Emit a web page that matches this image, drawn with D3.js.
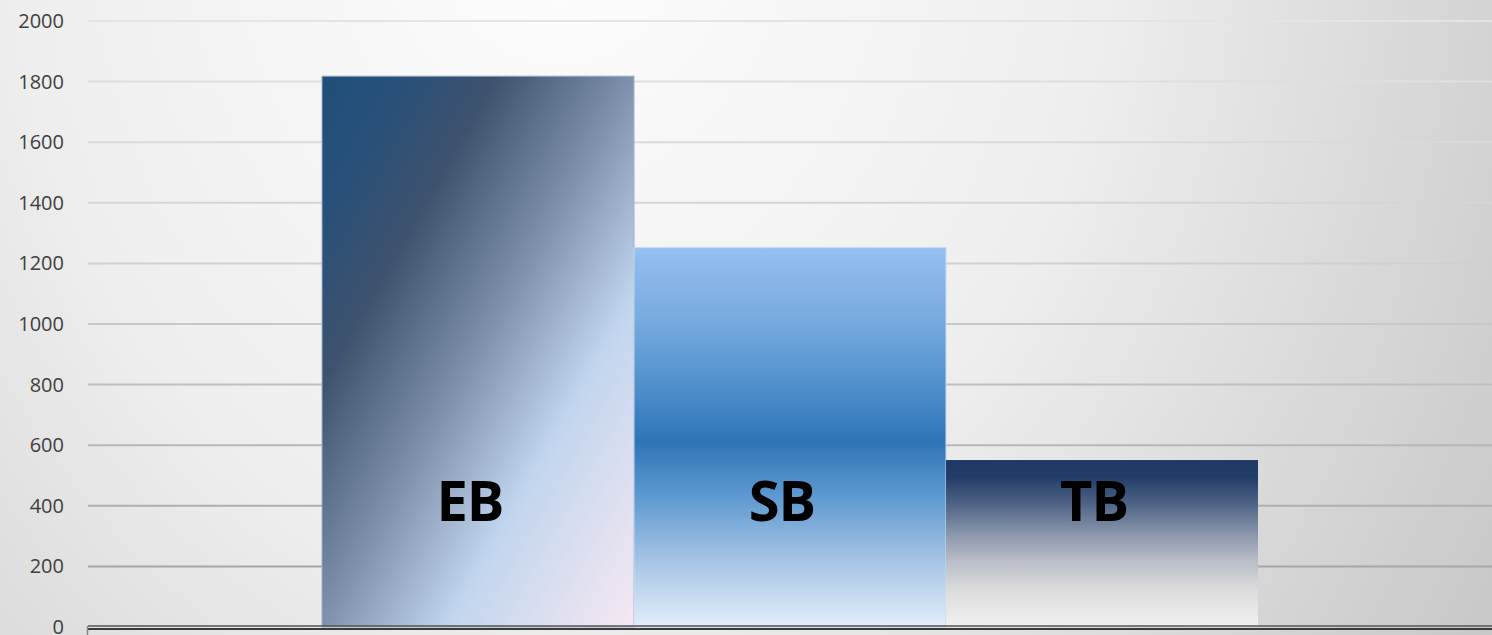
<!DOCTYPE html>
<html>
<head>
<meta charset="utf-8">
<script src="https://cdn.jsdelivr.net/npm/d3@7"></script>
<style>
  html, body { margin: 0; padding: 0; overflow: hidden; background: #fff; }
  svg { display: block; }
</style>
</head>
<body>
<div id="chart"></div>
<script>
// data
const categories = ["EB", "SB", "TB"]
const values = [1818, 1252, 551]
const yTicks = [0, 200, 400, 600, 800, 1000, 1200, 1400, 1600, 1800, 2000]

const width = 1492
const height = 635
const margin = {top: 21, right: 0, bottom: 8, left: 88}

const svg = d3.select("#chart").append("svg")
    .attr("width", width)
    .attr("height", height)

const defs = svg.append("defs")

// page background, light at the top middle, grey to the right
const bg = defs.append("radialGradient")
    .attr("id", "bg")
    .attr("gradientUnits", "userSpaceOnUse")
    .attr("cx", 0).attr("cy", 0).attr("r", 1)
    .attr("gradientTransform", "translate(560,-120) scale(1100,1400)")
bg.append("stop").attr("offset", 0).attr("stop-color", "#fefefe")
bg.append("stop").attr("offset", 0.5).attr("stop-color", "#eeeeee")
bg.append("stop").attr("offset", 1).attr("stop-color", "#c8c8c8")

// grid lines go from pale at the top to mid grey at the bottom
const gridGrad = defs.append("linearGradient")
    .attr("id", "gridGrad")
    .attr("gradientUnits", "userSpaceOnUse")
    .attr("x1", 0).attr("y1", margin.top).attr("x2", 0).attr("y2", height - margin.bottom)
gridGrad.append("stop").attr("offset", 0).attr("stop-color", "#e4e4e4")
gridGrad.append("stop").attr("offset", 0.4).attr("stop-color", "#d0d0d0")
gridGrad.append("stop").attr("offset", 1).attr("stop-color", "#9e9e9e")

function addGradient(id, stops, x2, y2) {
    const g = defs.append("linearGradient")
        .attr("id", id)
        .attr("x1", 0).attr("y1", 0).attr("x2", x2).attr("y2", y2)
    stops.forEach(s => {
        g.append("stop").attr("offset", s[0]).attr("stop-color", s[1])
    })
}

addGradient("fillEB", [
    [0, "#1f4e79"], [0.12, "#27507a"], [0.28, "#3e526e"], [0.5, "#7f91ac"],
    [0.7, "#c2d5ee"], [0.85, "#dcdff0"], [1, "#f7e7f3"]
], 1, 1)
addGradient("fillSB", [
    [0, "#97bff2"], [0.2, "#75a9de"], [0.36, "#5190cd"], [0.51, "#2e75b6"],
    [0.66, "#5f9ad0"], [0.83, "#a9c5e6"], [1, "#e2edfa"]
], 0, 1)
addGradient("fillTB", [
    [0, "#1f3864"], [0.1, "#223c68"], [0.25, "#4b6083"], [0.43, "#8693a9"],
    [0.6, "#b8bcc6"], [0.78, "#dcdcdc"], [1, "#f1f1f1"]
], 0, 1)

const fills = {EB: "url(#fillEB)", SB: "url(#fillSB)", TB: "url(#fillTB)"}
const edges = {EB: "#9fb0c8", SB: "#c4dbf6", TB: "none"}

svg.append("rect")
    .attr("width", width)
    .attr("height", height)
    .attr("fill", "url(#bg)")

const x = d3.scaleBand()
    .domain(categories)
    .range([margin.left, width - margin.right])
    .paddingInner(0)
    .paddingOuter(0.75)

const y = d3.scaleLinear()
    .domain([0, 2000])
    .range([height - margin.bottom, margin.top])

// grid
svg.append("g")
    .selectAll("line")
    .data(yTicks.filter(d => d > 0))
    .join("line")
        .attr("x1", margin.left)
        .attr("x2", width)
        .attr("y1", d => y(d))
        .attr("y2", d => y(d))
        .attr("stroke", "url(#gridGrad)")
        .attr("stroke-width", 2)

// y axis labels
const yAxis = svg.append("g")
    .attr("transform", `translate(${margin.left},0)`)
    .call(d3.axisLeft(y).tickValues(yTicks).tickFormat(d3.format("d")).tickSize(0).tickPadding(24))
yAxis.select(".domain").remove()
yAxis.selectAll("text")
    .attr("fill", "#404040")
    .style("font-family", "'Open Sans', 'Noto Sans', sans-serif")
    .style("font-size", "20px")

// bars
svg.append("g")
    .selectAll("rect")
    .data(categories)
    .join("rect")
        .attr("x", d => x(d))
        .attr("y", (d, i) => y(values[i]))
        .attr("width", x.bandwidth())
        .attr("height", (d, i) => y(0) - y(values[i]))
        .attr("fill", d => fills[d])
        .attr("stroke", d => edges[d])
        .attr("stroke-width", 1)

// labels inside the bars
svg.append("g")
    .selectAll("text")
    .data(categories)
    .join("text")
        .attr("x", d => x(d) + x.bandwidth() / 2 - 8)
        .attr("y", y(350))
        .attr("text-anchor", "middle")
        .attr("fill", "#000")
        .style("font-family", "'Open Sans', 'Noto Sans', sans-serif")
        .style("font-weight", 700)
        .style("font-size", "56px")
        .style("letter-spacing", "-1px")
        .text(d => d)

// bottom axis: two dark rules and a short tick at the left edge
const base = y(0)
svg.append("line")
    .attr("x1", margin.left).attr("x2", width)
    .attr("y1", base - 1).attr("y2", base - 1)
    .attr("stroke", "#555").attr("stroke-width", 1.5)
svg.append("line")
    .attr("x1", margin.left).attr("x2", width)
    .attr("y1", base + 2).attr("y2", base + 2)
    .attr("stroke", "#3a3a3a").attr("stroke-width", 2)
svg.append("line")
    .attr("x1", margin.left - 0.5).attr("x2", margin.left - 0.5)
    .attr("y1", base - 1).attr("y2", height)
    .attr("stroke", "#888").attr("stroke-width", 1.5)
</script>
</body>
</html>
